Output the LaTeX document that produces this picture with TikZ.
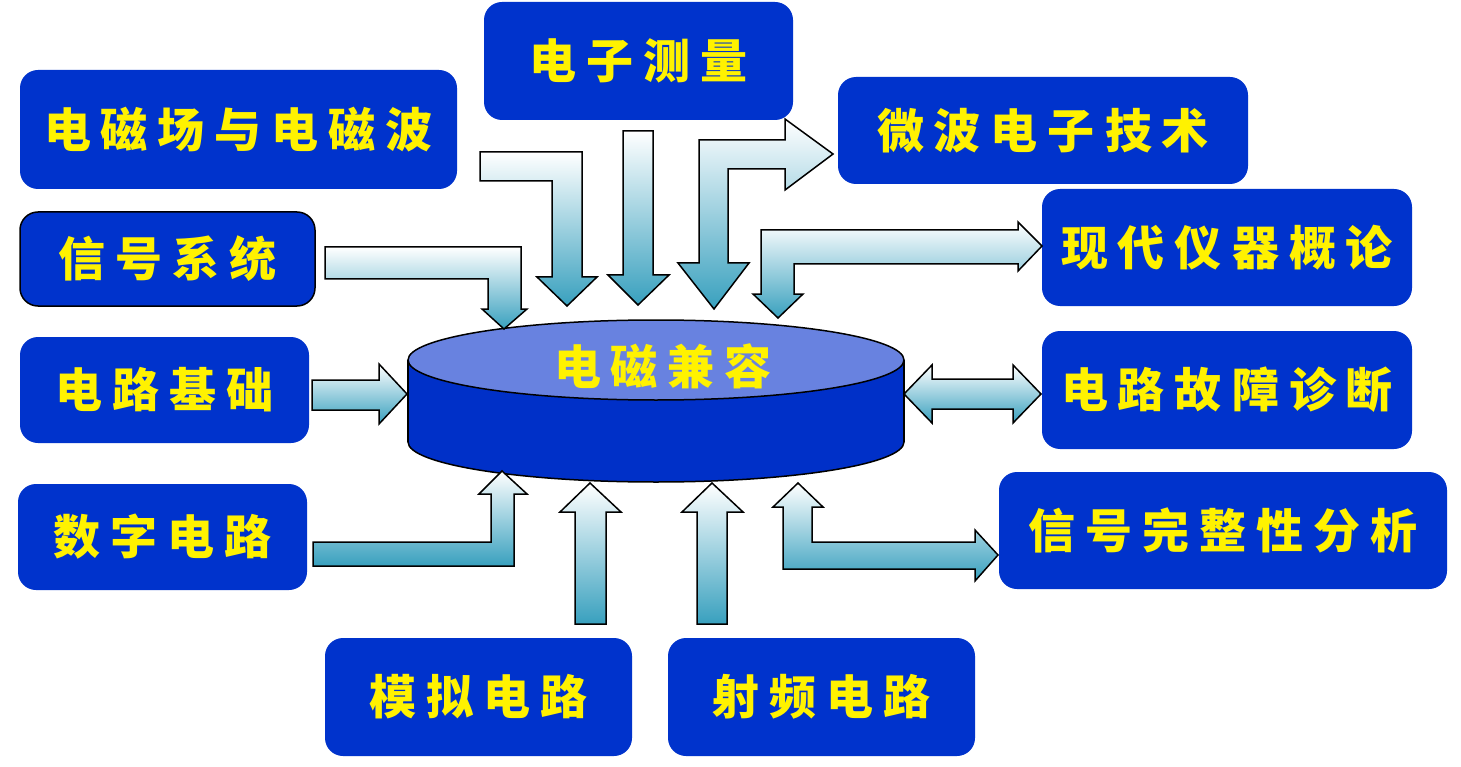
\documentclass[tikz,border=0pt]{standalone}
\usepackage{fontspec}
\newfontfamily\cjk{Noto Sans CJK SC}
\definecolor{boxblue}{RGB}{0,51,204}
\definecolor{cyltop}{RGB}{104,130,224}
\definecolor{cylside}{RGB}{0,48,200}
\definecolor{arrteal}{RGB}{56,160,190}
\newcommand\chgap{\hspace{10pt}}
\tikzset{
  box/.style={rounded corners=18pt, fill=boxblue, inner sep=0pt, text=yellow,
    font=\cjk\bfseries\fontsize{47}{52}\selectfont},
  barrow/.style={draw=black, line width=1.5pt, line join=miter, top color=white, bottom color=arrteal},
  cylline/.style={draw=black, line width=1.5pt}
}
\begin{document}
\begin{tikzpicture}[x=1pt,y=-1pt]
\useasboundingbox[fill=white] (0,0) rectangle (1461,767);
% boxes
\node[box, minimum width=437pt, minimum height=119pt] (b1) at (238.5,129.5) {电\chgap 磁\chgap 场\chgap 与\chgap 电\chgap 磁\chgap 波};
\node[box, minimum width=309pt, minimum height=118pt] (b2) at (638.5,61) {电\chgap 子\chgap 测\chgap 量};
\node[box, minimum width=410pt, minimum height=107pt] (b3) at (1043,130.5) {微\chgap 波\chgap 电\chgap 子\chgap 技\chgap 术};
\node[box, draw=black, line width=1.5pt, minimum width=295pt, minimum height=94pt] (b4) at (167.5,259) {信\chgap 号\chgap 系\chgap 统};
\node[box, minimum width=370pt, minimum height=117pt] (b5) at (1227,247.5) {现\chgap 代\chgap 仪\chgap 器\chgap 概\chgap 论};
\node[box, minimum width=289pt, minimum height=106pt] (b6) at (164.5,390) {电\chgap 路\chgap 基\chgap 础};
\node[box, minimum width=370pt, minimum height=118pt] (b7) at (1227,390) {电\chgap 路\chgap 故\chgap 障\chgap 诊\chgap 断};
\node[box, minimum width=289pt, minimum height=106pt] (b8) at (162.5,537) {数\chgap 字\chgap 电\chgap 路};
\node[box, minimum width=448pt, minimum height=117pt] (b9) at (1223,530.5) {信\chgap 号\chgap 完\chgap 整\chgap 性\chgap 分\chgap 析};
\node[box, minimum width=307pt, minimum height=118pt] (b10) at (478.5,697) {模\chgap 拟\chgap 电\chgap 路};
\node[box, minimum width=307pt, minimum height=118pt] (b11) at (821.5,697) {射\chgap 频\chgap 电\chgap 路};
% cylinder
\fill[cylside] (408,360) rectangle (904,442);
\fill[cylside] (656,442) ellipse [x radius=248, y radius=40];
\begin{scope}
  \clip (400,442) rectangle (912,490);
  \draw[cylline] (656,442) ellipse [x radius=248, y radius=40];
\end{scope}
\draw[cylline] (408,360) -- (408,442) (904,360) -- (904,442);
\draw[cylline, fill=cyltop] (656,360) ellipse [x radius=248, y radius=40];
\node[text=yellow, font=\cjk\bfseries\fontsize{47}{52}\selectfont] (emc) at (663,366) {电\chgap 磁\chgap 兼\chgap 容};
% block arrows
\draw[barrow] (480,152) -- (582,152) -- (582,277) -- (597,277) -- (567,306) -- (537,277) -- (552,277) -- (552,181) -- (480,181) -- cycle;
\draw[barrow] (623,131) -- (653,131) -- (653,275) -- (669,275) -- (638,305) -- (608,275) -- (623,275) -- cycle;
\draw[barrow] (699,140) -- (785,140) -- (785,119) -- (833,154) -- (785,190) -- (785,169) -- (728,169) -- (728,263) -- (749,263) -- (714,309) -- (678,263) -- (699,263) -- cycle;
\draw[barrow] (761,230) -- (1018,230) -- (1018,222) -- (1042,246) -- (1018,271) -- (1018,264) -- (794,264) -- (794,294) -- (803,294) -- (778,318) -- (753,294) -- (761,294) -- cycle;
\draw[barrow] (325,247) -- (521,247) -- (521,309) -- (527,309) -- (504,329) -- (482,309) -- (488,309) -- (488,279) -- (325,279) -- cycle;
\draw[barrow] (312,380) -- (379,380) -- (379,364) -- (407,394) -- (379,424) -- (379,410) -- (312,410) -- cycle;
\draw[barrow] (904,394) -- (932,365) -- (932,379) -- (1013,379) -- (1013,365) -- (1041,394) -- (1013,423) -- (1013,409) -- (932,409) -- (932,423) -- cycle;
\draw[barrow] (313,542) -- (491,542) -- (491,494) -- (479,494) -- (502,471) -- (527,494) -- (514,494) -- (514,566) -- (313,566) -- cycle;
\draw[barrow] (575,624) -- (575,512) -- (560,512) -- (590,483) -- (621,512) -- (606,512) -- (606,624) -- cycle;
\draw[barrow] (697,624) -- (697,512) -- (682,512) -- (712,483) -- (743,512) -- (727,512) -- (727,624) -- cycle;
\draw[barrow] (783,507) -- (773,507) -- (798,483) -- (823,507) -- (812,507) -- (812,542) -- (975,542) -- (975,530) -- (998,555) -- (975,581) -- (975,569) -- (783,569) -- cycle;
\end{tikzpicture}
\end{document}
